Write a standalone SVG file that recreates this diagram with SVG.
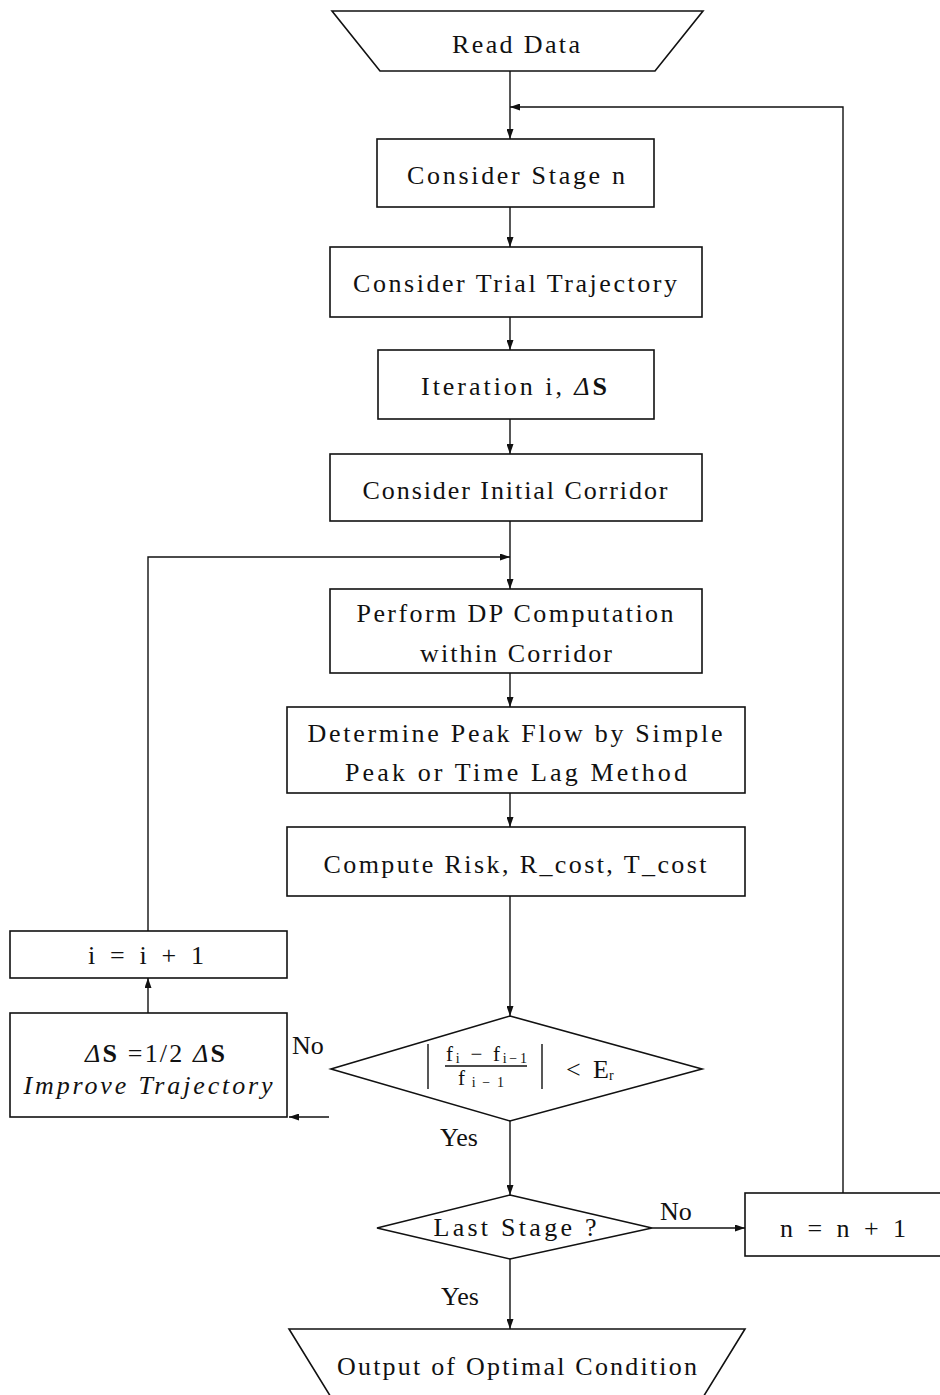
<svg xmlns="http://www.w3.org/2000/svg" width="940" height="1395" viewBox="0 0 940 1395">
<style>
.s{fill:#fff;stroke:#111;stroke-width:1.6}
.c{fill:none;stroke:#111;stroke-width:1.4}
text{font-family:"Liberation Serif","DejaVu Serif",serif;font-size:26px;fill:#111}
.m{text-anchor:middle}
.f{font-size:21px}
.sub{font-size:14px}
</style>
<defs>
<marker id="a" viewBox="0 0 10 7" refX="10" refY="3.5" markerWidth="10" markerHeight="7" markerUnits="userSpaceOnUse" orient="auto">
<path d="M0,0 L10,3.5 L0,7 z" fill="#111"/>
</marker>
</defs>
<rect width="940" height="1395" fill="#fff"/>
<g id="connectors">
<path class="c" d="M510,71 V139" marker-end="url(#a)"/>
<path class="c" d="M843,1193 V107 H510" marker-end="url(#a)"/>
<path class="c" d="M510,207 V247" marker-end="url(#a)"/>
<path class="c" d="M510,317 V350" marker-end="url(#a)"/>
<path class="c" d="M510,419 V454" marker-end="url(#a)"/>
<path class="c" d="M510,521 V589" marker-end="url(#a)"/>
<path class="c" d="M148,931 V557 H510" marker-end="url(#a)"/>
<path class="c" d="M510,673 V707" marker-end="url(#a)"/>
<path class="c" d="M510,793 V827" marker-end="url(#a)"/>
<path class="c" d="M510,896 V1016" marker-end="url(#a)"/>
<path class="c" d="M329,1117 H289" marker-end="url(#a)"/>
<path class="c" d="M148,1013 V978" marker-end="url(#a)"/>
<path class="c" d="M510,1121 V1195" marker-end="url(#a)"/>
<path class="c" d="M652,1228 H745" marker-end="url(#a)"/>
<path class="c" d="M510,1259 V1329" marker-end="url(#a)"/>
<text x="292" y="1054" font-size="24">No</text>
<text x="440" y="1146" font-size="24">Yes</text>
<text x="660" y="1220" font-size="24">No</text>
<text x="441" y="1305" font-size="24">Yes</text>
</g>
<g id="read">
<polygon class="s" points="332,11 703,11 655,71 380,71"/>
<text class="m" x="516" y="53" textLength="128" lengthAdjust="spacing">Read Data</text>
</g>
<g id="stage">
<rect class="s" x="377" y="139" width="277" height="68"/>
<text class="m" x="516" y="184" textLength="218" lengthAdjust="spacing">Consider Stage n</text>
</g>
<g id="trial">
<rect class="s" x="330" y="247" width="372" height="70"/>
<text class="m" x="515" y="292" textLength="324" lengthAdjust="spacing">Consider Trial Trajectory</text>
</g>
<g id="iter">
<rect class="s" x="378" y="350" width="276" height="69"/>
<text class="m" x="514" y="395" textLength="186" lengthAdjust="spacing">Iteration i, <tspan font-style="italic">Δ</tspan><tspan font-weight="bold">S</tspan></text>
</g>
<g id="corridor">
<rect class="s" x="330" y="454" width="372" height="67"/>
<text class="m" x="515" y="499" textLength="305" lengthAdjust="spacing">Consider Initial Corridor</text>
</g>
<g id="dp">
<rect class="s" x="330" y="589" width="372" height="84"/>
<text class="m" x="515" y="622" textLength="317" lengthAdjust="spacing">Perform DP Computation</text>
<text class="m" x="516" y="662" textLength="192" lengthAdjust="spacing">within Corridor</text>
</g>
<g id="peak">
<rect class="s" x="287" y="707" width="458" height="86"/>
<text class="m" x="515" y="742" textLength="415" lengthAdjust="spacing">Determine Peak Flow by Simple</text>
<text class="m" x="516" y="781" textLength="342" lengthAdjust="spacing">Peak or Time Lag Method</text>
</g>
<g id="risk">
<rect class="s" x="287" y="827" width="458" height="69"/>
<text class="m" x="515" y="873" textLength="383" lengthAdjust="spacing">Compute Risk, R_cost, T_cost</text>
</g>
<g id="incr">
<rect class="s" x="10" y="931" width="277" height="47"/>
<text class="m" x="146" y="964" textLength="116" lengthAdjust="spacing">i = i + 1</text>
</g>
<g id="improve">
<rect class="s" x="10" y="1013" width="277" height="104"/>
<text class="m" x="155" y="1062" textLength="140" lengthAdjust="spacing"><tspan font-style="italic">Δ</tspan><tspan font-weight="bold">S</tspan> =1/2 <tspan font-style="italic">Δ</tspan><tspan font-weight="bold">S</tspan></text>
<text class="m" x="148" y="1094" font-style="italic" textLength="249" lengthAdjust="spacing">Improve Trajectory</text>
</g>
<g id="converge">
<polygon class="s" points="510,1016 702,1069 510,1121 331,1069"/>
<line class="c" x1="428" y1="1044" x2="428" y2="1089"/>
<line class="c" x1="542" y1="1044" x2="542" y2="1089"/>
<line class="c" x1="445" y1="1066" x2="527" y2="1066"/>
<text class="f" x="446" y="1061" textLength="81" lengthAdjust="spacing">f<tspan class="sub" dy="2">i</tspan><tspan dy="-2"> − f</tspan><tspan class="sub" dy="2">i−1</tspan></text>
<text class="f" x="458" y="1085" textLength="46" lengthAdjust="spacing">f<tspan class="sub" dy="2">i−1</tspan></text>
<text x="566" y="1078" font-size="22">&lt;</text>
<text x="593" y="1078" font-size="22">E<tspan class="sub" dy="2">r</tspan></text>
</g>
<g id="last">
<polygon class="s" points="510,1195 652,1228 510,1259 377,1228"/>
<text class="m" x="515" y="1236" textLength="163" lengthAdjust="spacing">Last Stage ?</text>
</g>
<g id="nincr">
<rect class="s" x="745" y="1193" width="200" height="63"/>
<text class="m" x="843" y="1237" textLength="126" lengthAdjust="spacing">n = n + 1</text>
</g>
<g id="output">
<polygon class="s" points="289,1329 745,1329 689,1420 345,1420"/>
<text class="m" x="517" y="1375" textLength="360" lengthAdjust="spacing">Output of Optimal Condition</text>
</g>
</svg>
